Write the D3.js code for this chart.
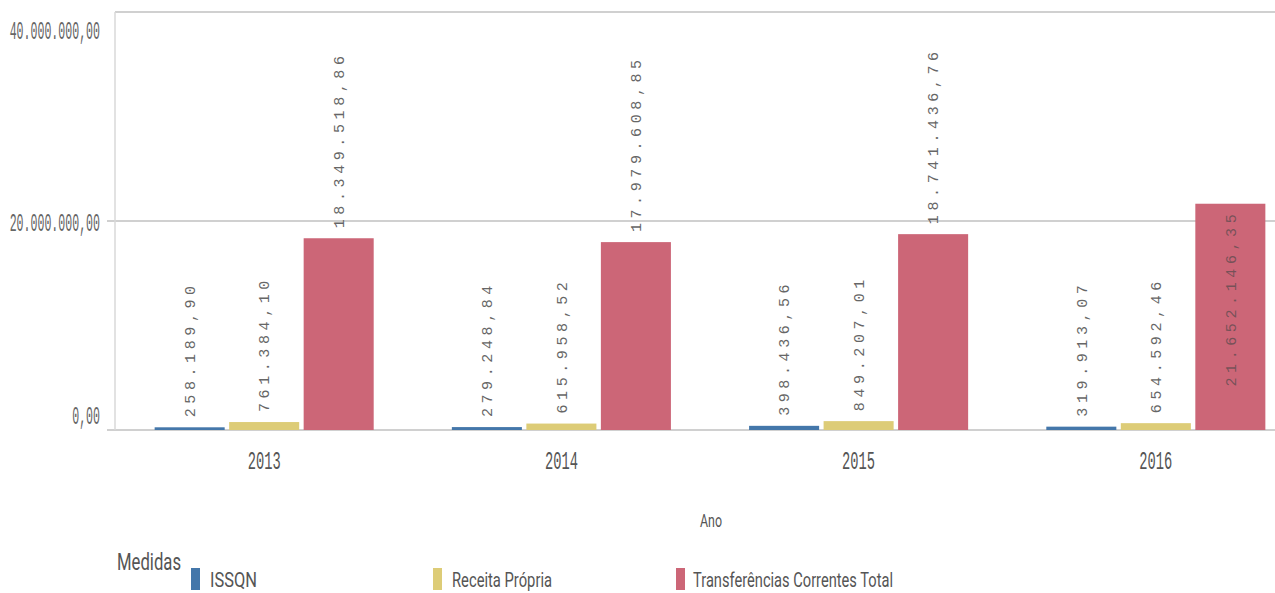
<!DOCTYPE html>
<html>
<head>
<meta charset="utf-8">
<script src="https://cdn.jsdelivr.net/npm/d3@7"></script>
<style>
  html, body { margin: 0; padding: 0; background: #fff; }
  svg { display: block; }
</style>
</head>
<body>
<div id="chart"></div>
<script>
// ── Data ──────────────────────────────────────────────────────────────────
const years = ["2013", "2014", "2015", "2016"];
const measures = ["ISSQN", "Receita Própria", "Transferências Correntes Total"];
const issqn = [258189.90, 279248.84, 398436.56, 319913.07];
const receitaPropria = [761384.10, 615958.52, 849207.01, 654592.46];
const transferencias = [18349518.86, 17979608.85, 18741436.76, 21652146.35];
const yTicks = [0, 20000000, 40000000];
const colors = ["#4477aa", "#ddcc77", "#cc6677"];

const seriesValues = [issqn, receitaPropria, transferencias];

const width = 1275, height = 593;
const svg = d3.select("#chart").append("svg").attr("width", width).attr("height", height);

// ── Scales ────────────────────────────────────────────────────────────────
const plotLeft = 115;
const x0 = d3.scaleBand().domain(years).range([116, 1304]).paddingInner(0.263).paddingOuter(0.13);
const x1 = d3.scaleBand().domain(measures).range([0, x0.bandwidth()]).paddingInner(0.06);
const y = d3.scaleLinear().domain([0, 40000000]).range([430, 12]);

const brNum = d3.formatLocale({ decimal: ",", thousands: ".", grouping: [3], currency: ["R$", ""] }).format(",.2f");

// ── Gridlines & axis ──────────────────────────────────────────────────────
const grid = svg.append("g");
yTicks.forEach(t => {
  grid.append("line")
    .attr("x1", t === 40000000 ? plotLeft : 107).attr("x2", width)
    .attr("y1", y(t)).attr("y2", y(t))
    .attr("stroke", "#d0d0d0").attr("stroke-width", 2);
});
grid.append("line")
  .attr("x1", plotLeft).attr("x2", plotLeft)
  .attr("y1", y(40000000)).attr("y2", y(0))
  .attr("stroke", "#d9d9d9").attr("stroke-width", 1.5);

// labels at the ends of the axis are pulled inside the plot
const yLabelY = t => t === 40000000 ? y(t) + 18 : t === 0 ? y(t) - 15 : y(t) + 1;
svg.append("g").selectAll("text")
  .data(yTicks).join("text")
  .attr("x", 100).attr("y", yLabelY)
  .attr("dy", "0.35em")
  .attr("text-anchor", "end")
  .attr("font-family", "Liberation Mono, DejaVu Sans Mono, monospace")
  .attr("font-size", "26px")
  .attr("fill", "#666")
  .attr("textLength", t => brNum(t).length * 6.95)
  .attr("lengthAdjust", "spacingAndGlyphs")
  .text(t => brNum(t));

// ── Year labels ───────────────────────────────────────────────────────────
svg.append("g").selectAll("text")
  .data(years).join("text")
  .attr("x", d => x0(d) + x0.bandwidth() / 2)
  .attr("y", 460)
  .attr("dy", "0.35em")
  .attr("text-anchor", "middle")
  .attr("font-family", "Liberation Mono, DejaVu Sans Mono, monospace")
  .attr("font-size", "26px")
  .attr("fill", "#555")
  .attr("textLength", 33)
  .attr("lengthAdjust", "spacingAndGlyphs")
  .text(d => d);

svg.append("text")
  .attr("x", 711).attr("y", 520).attr("dy", "0.35em")
  .attr("text-anchor", "middle")
  .attr("font-family", "Roboto, sans-serif")
  .attr("font-size", "19px")
  .attr("fill", "#555")
  .attr("textLength", 22).attr("lengthAdjust", "spacingAndGlyphs")
  .text("Ano");

// ── Bars ──────────────────────────────────────────────────────────────────
const cells = [];
years.forEach((yr, i) => {
  measures.forEach((m, j) => cells.push({ year: yr, measure: m, idx: j, value: seriesValues[j][i] }));
});

svg.append("g").selectAll("rect")
  .data(cells).join("rect")
  .attr("x", d => x0(d.year) + x1(d.measure))
  .attr("y", d => y(d.value))
  .attr("width", x1.bandwidth())
  .attr("height", d => y(0) - y(d.value))
  .attr("fill", d => colors[d.idx]);

// ── Value labels (rotated) ────────────────────────────────────────────────
const charStep = 13.6;
const labelGap = 10;
svg.append("g").selectAll("text")
  .data(cells).join("text")
  .each(function (d) {
    const txt = brNum(d.value);
    const len = txt.length * charStep;
    const top = y(d.value);
    const cx = x0(d.year) + x1(d.measure) + x1.bandwidth() / 2;
    const inside = top - labelGap - len < 40;
    const startY = inside ? top + 6 + len : top - labelGap;
    d3.select(this)
      .attr("transform", `translate(${cx},${startY}) rotate(-90)`)
      .attr("dy", "0.35em")
      .attr("font-family", "Liberation Mono, DejaVu Sans Mono, monospace")
      .attr("font-size", "15px")
      .attr("letter-spacing", "4.6px")
      .attr("fill", inside ? "#5a4a4e" : "#666")
      .attr("fill-opacity", inside ? 0.75 : 1)
      .text(txt);
  });

// ── Legend ────────────────────────────────────────────────────────────────
svg.append("text")
  .attr("x", 117).attr("y", 562).attr("dy", "0.35em")
  .attr("font-family", "Roboto, sans-serif")
  .attr("font-size", "23px")
  .attr("fill", "#555")
  .attr("textLength", 64).attr("lengthAdjust", "spacingAndGlyphs")
  .text("Medidas");

const legendX = [191, 433, 676];
const legendW = [47, 100, 200];
const legend = svg.append("g").selectAll("g")
  .data(measures).join("g")
  .attr("transform", (d, i) => `translate(${legendX[i]},0)`);

legend.append("rect")
  .attr("x", 0).attr("y", 568)
  .attr("width", 9).attr("height", 22)
  .attr("fill", (d, i) => colors[i]);

legend.append("text")
  .attr("x", (d, i) => i === 2 ? 17 : 19).attr("y", 580).attr("dy", "0.35em")
  .attr("font-family", "Roboto, sans-serif")
  .attr("font-size", "21px")
  .attr("fill", "#555")
  .attr("textLength", (d, i) => legendW[i]).attr("lengthAdjust", "spacingAndGlyphs")
  .text(d => d);
</script>
</body>
</html>
